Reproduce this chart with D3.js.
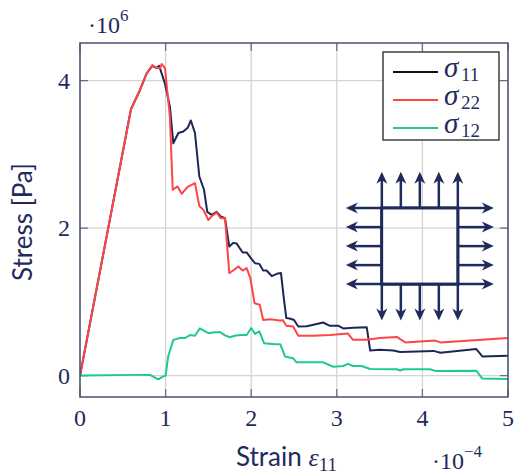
<!DOCTYPE html>
<html>
<head>
<meta charset="utf-8">
<script src="https://cdn.jsdelivr.net/npm/d3@7"></script>
<style>
  body { margin: 0; background: #fff; }
  svg { display: block; }
</style>
</head>
<body>
<script>
// Data: strain in 1e-4, stress in 1e6 Pa.
var sigma11 = [[0,0],[0.596,3.615],[0.70,3.87],[0.78,4.10],[0.845,4.20],[0.895,4.17],[0.925,4.20],
  [0.99,3.97],[1.05,3.65],[1.09,3.15],[1.149,3.29],[1.207,3.31],[1.258,3.36],[1.295,3.46],[1.343,3.29],
  [1.394,2.70],[1.449,2.52],[1.487,2.22],[1.538,2.18],[1.597,2.22],[1.643,2.16],[1.694,2.135],
  [1.744,1.75],[1.79,1.80],[1.83,1.79],[1.90,1.67],[1.947,1.67],[2.005,1.58],[2.044,1.525],
  [2.095,1.515],[2.14,1.425],[2.18,1.425],[2.24,1.35],[2.30,1.38],[2.348,1.39],[2.383,1.03],
  [2.41,0.78],[2.46,0.77],[2.5,0.755],[2.55,0.665],[2.65,0.67],[2.765,0.70],[2.84,0.72],
  [2.92,0.675],[3.02,0.675],[3.076,0.64],[3.19,0.65],[3.35,0.655],[3.39,0.34],[3.50,0.35],
  [3.66,0.34],[3.74,0.32],[4.13,0.335],[4.21,0.31],[4.63,0.36],[4.70,0.26],[5.0,0.27]];

var sigma22 = [[0,0],[0.596,3.615],[0.70,3.87],[0.78,4.10],[0.845,4.21],[0.895,4.17],[0.935,4.17],
  [0.954,4.225],[0.993,4.17],[1.03,3.74],[1.05,3.51],[1.083,2.52],[1.14,2.565],[1.188,2.465],
  [1.254,2.555],[1.343,2.61],[1.394,2.30],[1.44,2.25],[1.499,2.11],[1.538,2.16],[1.597,2.21],
  [1.643,2.135],[1.694,2.135],[1.744,1.39],[1.79,1.425],[1.85,1.48],[1.90,1.425],[1.947,1.457],
  [1.99,1.32],[2.04,0.98],[2.10,0.96],[2.14,0.755],[2.22,0.765],[2.336,0.746],[2.37,0.75],
  [2.41,0.675],[2.49,0.665],[2.55,0.54],[2.725,0.54],[2.92,0.55],[3.13,0.57],[3.19,0.485],
  [3.35,0.485],[3.50,0.51],[3.70,0.525],[3.80,0.45],[4.15,0.475],[4.21,0.45],[5.0,0.51]];

var sigma12 = [[0,0],[0.68,0.01],[0.818,0.01],[0.915,-0.05],[0.973,-0.01],[1.0,0.0],[1.03,0.26],
  [1.09,0.485],[1.168,0.51],[1.227,0.51],[1.285,0.55],[1.343,0.54],[1.40,0.64],[1.50,0.575],
  [1.557,0.585],[1.636,0.59],[1.694,0.545],[1.75,0.52],[1.81,0.54],[1.87,0.55],[1.947,0.55],
  [2.0,0.645],[2.044,0.565],[2.095,0.60],[2.15,0.44],[2.278,0.425],[2.34,0.425],[2.395,0.26],
  [2.49,0.235],[2.53,0.18],[2.84,0.18],[2.96,0.12],[3.076,0.13],[3.13,0.16],[3.19,0.13],
  [3.29,0.13],[3.39,0.09],[3.70,0.087],[3.74,0.07],[3.78,0.087],[4.09,0.087],[4.15,0.064],
  [4.63,0.066],[4.70,-0.04],[5.0,-0.045]];

var xTicks = [0, 1, 2, 3, 4, 5];
var yTicks = [0, 2, 4];
var seriesNames = ["11", "22", "12"];

// Canvas.
var width   = 516,
    height  = 475,
    pLeft   = 80,
    pRight  = 508,
    pTop    = 43,
    pBottom = 397;

var navy   = "#1f2b5b",
    frameC = "#4a5273",
    colors = ["#1c2756", "#ff4545", "#1ecb8a"],
    legendColors = ["#111111", "#ff4545", "#1ecb8a"];

var x = d3.scaleLinear().domain([0, 5]).range([pLeft, pRight]);
var y = d3.scaleLinear().domain([-0.29, 4.51]).range([pBottom, pTop]);

var svg = d3.select("body").append("svg")
    .attr("width", width)
    .attr("height", height);

svg.append("defs").append("clipPath").attr("id", "clip")
  .append("rect")
    .attr("x", pLeft).attr("y", pTop)
    .attr("width", pRight - pLeft).attr("height", pBottom - pTop);

// Grid.
var grid = svg.append("g").attr("stroke", "#d4d4d4").attr("stroke-width", 1.3);
grid.selectAll(".gx").data(xTicks).enter().append("line")
    .attr("x1", function(d) { return x(d); }).attr("x2", function(d) { return x(d); })
    .attr("y1", pTop).attr("y2", pBottom);
grid.selectAll(".gy").data(yTicks).enter().append("line")
    .attr("y1", function(d) { return y(d); }).attr("y2", function(d) { return y(d); })
    .attr("x1", pLeft).attr("x2", pRight);

// Inward tick marks on all four sides.
var tl = 8;
var ticks = svg.append("g").attr("stroke", "#6a6f80").attr("stroke-width", 1.3);
xTicks.forEach(function(d) {
  ticks.append("line").attr("x1", x(d)).attr("x2", x(d)).attr("y1", pBottom).attr("y2", pBottom - tl);
  ticks.append("line").attr("x1", x(d)).attr("x2", x(d)).attr("y1", pTop).attr("y2", pTop + tl);
});
yTicks.forEach(function(d) {
  ticks.append("line").attr("y1", y(d)).attr("y2", y(d)).attr("x1", pLeft).attr("x2", pLeft + tl);
  ticks.append("line").attr("y1", y(d)).attr("y2", y(d)).attr("x1", pRight).attr("x2", pRight - tl);
});

// Curves.
var line = d3.line()
    .x(function(d) { return x(d[0]); })
    .y(function(d) { return y(d[1]); });

svg.append("g").attr("clip-path", "url(#clip)")
  .selectAll("path")
    .data([sigma11, sigma22, sigma12])
  .enter().append("path")
    .attr("d", line)
    .attr("fill", "none")
    .attr("stroke", function(d, i) { return colors[i]; })
    .attr("stroke-width", 2)
    .attr("stroke-linejoin", "round");

// Frame.
svg.append("rect")
    .attr("x", pLeft).attr("y", pTop)
    .attr("width", pRight - pLeft).attr("height", pBottom - pTop)
    .attr("fill", "none")
    .attr("stroke", frameC)
    .attr("stroke-width", 1.5);

// Tick labels.
var serif = "'Liberation Serif', 'DejaVu Serif', serif";
svg.append("g").selectAll("text")
    .data(xTicks)
  .enter().append("text")
    .attr("x", function(d) { return x(d); })
    .attr("y", 426)
    .attr("text-anchor", "middle")
    .attr("font-family", serif)
    .attr("font-size", "24px")
    .attr("fill", navy)
    .text(function(d) { return d; });

svg.append("g").selectAll("text")
    .data(yTicks)
  .enter().append("text")
    .attr("x", 70)
    .attr("y", function(d) { return y(d) + 8; })
    .attr("text-anchor", "end")
    .attr("font-family", serif)
    .attr("font-size", "24px")
    .attr("fill", navy)
    .text(function(d) { return d; });

// Scale factors.
var f6 = svg.append("text").attr("x", 88).attr("y", 33)
    .attr("font-family", serif).attr("font-size", "24px").attr("fill", navy);
f6.append("tspan").text("\u00b710");
f6.append("tspan").attr("dy", -12).attr("font-size", "17px").text("6");

var f4 = svg.append("text").attr("x", 432).attr("y", 469)
    .attr("font-family", serif).attr("font-size", "24px").attr("fill", navy);
f4.append("tspan").text("\u00b710");
f4.append("tspan").attr("dy", -12).attr("font-size", "17px").text("\u22124");

// Axis labels.
var sans = "Lato, 'Open Sans', sans-serif";
var xl = svg.append("text").attr("x", 236).attr("y", 466)
    .attr("font-family", sans).attr("font-size", "26px").attr("fill", navy);
xl.append("tspan").text("Strain ");
xl.append("tspan").attr("font-family", serif).attr("font-style", "italic").text("\u03b5");
xl.append("tspan").attr("font-family", serif).attr("font-size", "19px").attr("dy", 5).text("11");

svg.append("text")
    .attr("transform", "translate(32,222) rotate(-90)")
    .attr("text-anchor", "middle")
    .attr("font-family", sans)
    .attr("font-size", "26px")
    .attr("fill", navy)
    .text("Stress [Pa]");

// Legend.
var legend = svg.append("g");
legend.append("rect")
    .attr("x", 383).attr("y", 52).attr("width", 116).attr("height", 88)
    .attr("fill", "#fff").attr("stroke", "#222").attr("stroke-width", 1.3);
var rows = legend.selectAll(".row").data(seriesNames).enter().append("g")
    .attr("transform", function(d, i) { return "translate(0," + (72 + i * 28) + ")"; });
rows.append("line")
    .attr("x1", 393).attr("x2", 438).attr("y1", 0).attr("y2", 0)
    .attr("stroke", function(d, i) { return legendColors[i]; })
    .attr("stroke-width", 2);
rows.append("text").attr("x", 444).attr("y", 5)
    .attr("font-family", serif).attr("fill", navy)
    .attr("font-style", "italic").attr("font-size", "29px").text("\u03c3");
rows.append("text").attr("x", 461).attr("y", 9)
    .attr("font-family", serif).attr("fill", navy)
    .attr("font-size", "19px").text(function(d) { return d; });

// Inset: biaxially loaded square.
var cx = x(3.97), cy = y(1.756);
var h = 38.3, sp = 19, reach = 74, arrowLen = 36;
var inset = svg.append("g").attr("stroke", navy).attr("stroke-width", 2.5).attr("fill", "none");
var heads = svg.append("g").attr("fill", navy);
inset.append("rect").attr("x", cx - h).attr("y", cy - h).attr("width", 2 * h).attr("height", 2 * h);

function arrow(x1, y1, x2, y2) {
  var dx = x2 - x1, dy = y2 - y1, L = Math.sqrt(dx * dx + dy * dy);
  var ux = dx / L, uy = dy / L, hl = 12, hw = 5.5;
  inset.append("line").attr("x1", x1).attr("y1", y1)
      .attr("x2", x2 - ux * hl * 0.6).attr("y2", y2 - uy * hl * 0.6);
  var bx = x2 - ux * hl, by = y2 - uy * hl;
  heads.append("path").attr("d",
      "M" + x2 + "," + y2 +
      "L" + (bx - uy * hw) + "," + (by + ux * hw) +
      "L" + (x2 - ux * hl * 0.7) + "," + (y2 - uy * hl * 0.7) +
      "L" + (bx + uy * hw) + "," + (by - ux * hw) + "Z");
}

for (var k = -2; k <= 2; k++) {
  var o = k * sp;
  // up / down
  arrow(cx + o, cy + (Math.abs(k) === 2 ? h : -h), cx + o, cy - h - arrowLen);
  arrow(cx + o, cy + (Math.abs(k) === 2 ? -h : h), cx + o, cy + h + arrowLen);
  // left / right
  arrow(cx + (Math.abs(k) === 2 ? h : -h), cy + o, cx - reach, cy + o);
  arrow(cx + (Math.abs(k) === 2 ? -h : h), cy + o, cx + reach, cy + o);
}
</script>
</body>
</html>
